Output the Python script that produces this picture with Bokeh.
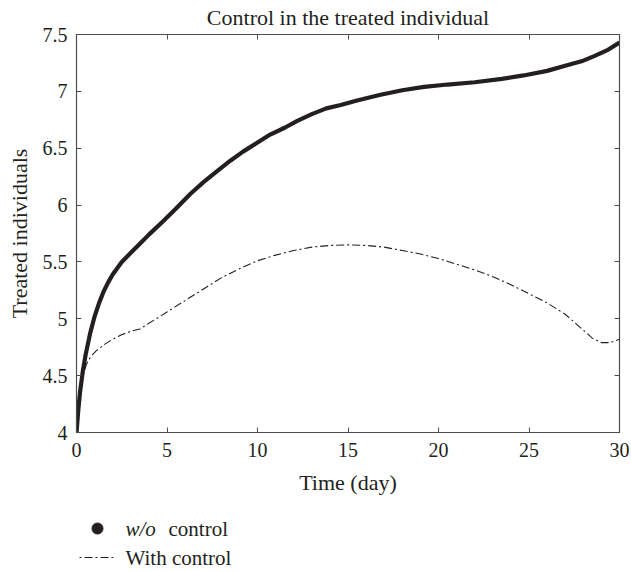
from bokeh.plotting import figure
from bokeh.models import LinearAxis, FixedTicker, Range1d
from bokeh.layouts import column
from bokeh.core.properties import value
from bokeh.embed import file_html
from bokeh.resources import INLINE

# Data
t_wo = [0, 0.1, 0.2, 0.35, 0.5, 0.75, 1, 1.25, 1.5, 1.75, 2, 2.5, 3, 3.5, 4, 4.8, 5.5,
        6.3, 7, 7.7, 8.5, 9.2, 10, 10.7, 11.5, 12.2, 13, 13.8, 14.6, 15.5, 16.8, 18,
        19.2, 20.5, 22, 23.5, 24.7, 26, 27.1, 28, 28.6, 29.3, 30]
y_wo = [4.0, 4.2, 4.36, 4.54, 4.68, 4.87, 5.02, 5.14, 5.24, 5.32, 5.39, 5.5, 5.58, 5.66,
        5.74, 5.86, 5.97, 6.1, 6.2, 6.29, 6.39, 6.47, 6.55, 6.62, 6.68, 6.74, 6.8, 6.85,
        6.88, 6.92, 6.97, 7.01, 7.04, 7.06, 7.08, 7.11, 7.14, 7.18, 7.23, 7.27, 7.31,
        7.36, 7.43]

t_w = [0, 0.1, 0.2, 0.35, 0.55, 0.8, 1.1, 1.5, 2, 2.5, 3, 3.5, 4, 5, 6, 7, 8, 9, 10, 11,
       12, 13, 14, 15, 16, 17, 18, 19, 20, 21, 22, 23, 24, 25, 26, 27, 28, 28.5, 29,
       29.5, 30]
y_w = [4.0, 4.2, 4.38, 4.5, 4.6, 4.67, 4.72, 4.77, 4.82, 4.86, 4.89, 4.91, 4.96, 5.06,
       5.16, 5.26, 5.36, 5.44, 5.51, 5.56, 5.6, 5.63, 5.645, 5.65, 5.645, 5.63, 5.6,
       5.57, 5.53, 5.48, 5.43, 5.37, 5.3, 5.22, 5.14, 5.04, 4.9, 4.83, 4.79, 4.79, 4.82]

x_ticks = [0, 5, 10, 15, 20, 25, 30]
y_ticks = [4, 4.5, 5, 5.5, 6, 6.5, 7, 7.5]
y_tick_labels = {4: "4", 4.5: "4.5", 5: "5", 5.5: "5.5", 6: "6", 6.5: "6.5", 7: "7", 7.5: "7.5"}

title_text = "Control in the treated individual"
x_label = "Time (day)"
y_label = "Treated individuals"
legend_labels = ["w/o", "control", "With control"]

FONT = "Liberation Serif"
INK = "#231f20"
AX = "#4d4d4d"
DASH = "8 3 2 3"

p = figure(width=631, height=500, output_backend="svg", toolbar_location=None,
           x_range=Range1d(0, 30), y_range=Range1d(4, 7.5),
           min_border_left=76, min_border_right=12, min_border_top=34,
           min_border_bottom=68, x_axis_location=None, y_axis_location=None)
p.background_fill_color = "white"
p.border_fill_color = "white"
p.grid.visible = False
p.outline_line_color = AX
p.outline_line_width = 1.2

p.title.text = title_text
p.title.align = "center"
p.title.vertical_align = "top"
p.title.text_font = FONT
p.title.text_font_size = "22px"
p.title.text_font_style = "normal"
p.title.text_color = INK
p.title.standoff = 6

def style_axis(ax, labels=True):
    ax.major_tick_in = 5
    ax.major_tick_out = 0
    ax.minor_tick_in = 0
    ax.minor_tick_out = 0
    ax.axis_line_color = AX
    ax.major_tick_line_color = AX
    ax.major_label_text_font = FONT
    ax.major_label_text_font_size = "20px"
    ax.major_label_text_color = INK
    ax.axis_label_text_font = FONT
    ax.axis_label_text_font_size = "22px"
    ax.axis_label_text_font_style = "normal"
    ax.axis_label_text_color = INK
    if not labels:
        ax.major_label_text_font_size = "0px"
        ax.major_label_text_alpha = 0
        ax.major_label_standoff = 0

xb = LinearAxis(ticker=FixedTicker(ticks=x_ticks), axis_label=x_label)
style_axis(xb)
xb.major_label_standoff = 10
xb.axis_label_standoff = 10
p.add_layout(xb, "below")

yl = LinearAxis(ticker=FixedTicker(ticks=y_ticks), axis_label=y_label)
style_axis(yl)
yl.major_label_overrides = y_tick_labels
yl.major_label_standoff = 9
yl.axis_label_standoff = 8
p.add_layout(yl, "left")

xt = LinearAxis(ticker=FixedTicker(ticks=x_ticks))
style_axis(xt, labels=False)
p.add_layout(xt, "above")

yr = LinearAxis(ticker=FixedTicker(ticks=y_ticks))
style_axis(yr, labels=False)
p.add_layout(yr, "right")

p.line(t_w, y_w, line_color=INK, line_width=1.1, line_dash=DASH)
p.line(t_wo, y_wo, line_color=INK, line_width=4.2)

# Legend strip below the chart; its frame is aligned with the chart frame (x 76..619)
leg = figure(width=631, height=71, output_backend="svg", toolbar_location=None,
             x_range=Range1d(76, 619), y_range=Range1d(71, 0),
             min_border=0, x_axis_location=None, y_axis_location=None)
leg.outline_line_color = None
leg.grid.visible = False
leg.background_fill_color = "white"
leg.border_fill_color = "white"

leg.scatter([97], [28], size=11, color=INK)
leg.text([125], [28], text=[legend_labels[0]], text_font=value(FONT), text_font_size="21px",
         text_font_style="italic", text_color=INK, text_baseline="middle", text_align="left")
leg.text([168], [28], text=[legend_labels[1]], text_font=value(FONT), text_font_size="21px",
         text_color=INK, text_baseline="middle", text_align="left")
leg.line([78, 113], [57, 57], line_color=INK, line_width=1.1, line_dash=DASH,
         line_dash_offset=10)
leg.text([125], [57], text=[legend_labels[2]], text_font=value(FONT), text_font_size="21px",
         text_color=INK, text_baseline="middle", text_align="left")

layout = column(p, leg, spacing=0)
open("out.html", "w").write(file_html(layout, INLINE))
